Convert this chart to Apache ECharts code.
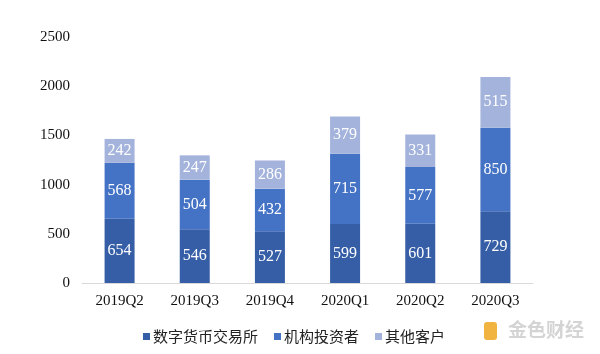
<!DOCTYPE html>
<html lang="zh">
<head>
    <meta charset="UTF-8">
    <title>客户结构</title>
    <script src="https://cdn.jsdelivr.net/npm/echarts@6/dist/echarts.min.js"></script>
    <style>
        body { margin: 0; background: #fff; }
        #app { width: 600px; height: 354px; }
    </style>
</head>
<body>
    <div id="app"></div>
    <script>
        let quarters = ['2019Q2', '2019Q3', '2019Q4', '2020Q1', '2020Q2', '2020Q3']
        let exchanges = [654, 546, 527, 599, 601, 729]
        let institutions = [568, 504, 432, 715, 577, 850]
        let others = [242, 247, 286, 379, 331, 515]
        let yTicks = [0, 500, 1000, 1500, 2000, 2500]

        let serif = '"Liberation Serif", "Times New Roman", serif'
        let colors = ['#355ea6', '#4472c4', '#a4b3dc']

        let mCharts = echarts.init(document.getElementById('app'))

        function makeSeries(name, data, color) {
            return {
                name: name,
                type: 'bar',
                stack: 'all',
                data: data,
                barWidth: 30,
                itemStyle: { color: color },
                label: {
                    show: true,
                    position: 'inside',
                    color: '#fff',
                    fontFamily: serif,
                    fontSize: 16
                }
            }
        }

        let option = {
            animation: false,
            textStyle: { fontFamily: serif },
            grid: { left: 82, right: 67, top: 37, bottom: 71 },
            legend: {
                top: 324,
                left: 138,
                itemWidth: 7,
                itemHeight: 7,
                itemGap: 16,
                icon: 'rect',
                textStyle: { fontFamily: '"Noto Sans CJK SC", serif', fontSize: 15, color: '#222', padding: [0, 0, 0, -2] },
                data: ['数字货币交易所', '机构投资者', '其他客户']
            },
            xAxis: {
                type: 'category',
                data: quarters,
                axisTick: { show: false },
                axisLine: { lineStyle: { color: '#d9d9d9' } },
                axisLabel: { color: '#111', fontSize: 15, fontFamily: serif, margin: 11 }
            },
            yAxis: {
                type: 'value',
                min: yTicks[0],
                max: yTicks[yTicks.length - 1],
                interval: 500,
                splitLine: { show: false },
                axisLine: { show: false },
                axisTick: { show: false },
                axisLabel: { color: '#111', fontSize: 15, fontFamily: serif, margin: 12, formatter: v => String(v) }
            },
            graphic: [
                {
                    type: 'rect',
                    left: 484, top: 322,
                    shape: { width: 13, height: 18, r: 3 },
                    style: { fill: '#f1b441' }
                },
                {
                    type: 'text',
                    left: 508, top: 320,
                    style: { text: '金色财经', fill: '#d4d4d4', font: 'bold 19px "Noto Sans CJK SC"' }
                }
            ],
            series: [
                makeSeries('数字货币交易所', exchanges, colors[0]),
                makeSeries('机构投资者', institutions, colors[1]),
                makeSeries('其他客户', others, colors[2])
            ]
        }
        mCharts.setOption(option)
    </script>
</body>
</html>
